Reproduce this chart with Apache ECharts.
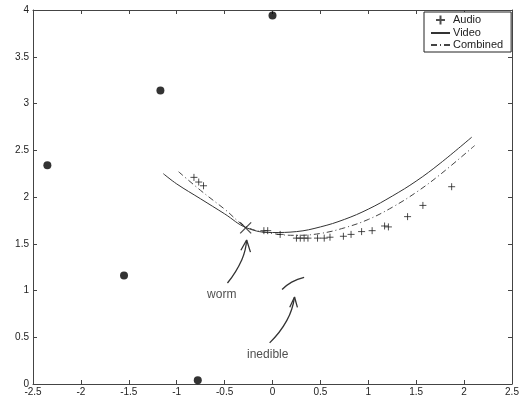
<!DOCTYPE html>
<html><head><meta charset="utf-8">
<script src="https://cdn.jsdelivr.net/npm/echarts@6/dist/echarts.min.js"></script>
<style>html,body{margin:0;padding:0;background:#fff}#c{width:526px;height:406px}</style>
</head><body><div id="c"></div>
<script>
// Data
const dotsData = [[-2.35, 2.34], [-1.55, 1.16], [-1.17, 3.14], [0.0, 3.94], [-0.78, 0.04]];
const audioData = [[-0.82, 2.21], [-0.77, 2.16], [-0.72, 2.12], [-0.09, 1.64], [-0.05, 1.64], [0.08, 1.60],
  [0.25, 1.56], [0.29, 1.56], [0.33, 1.56], [0.37, 1.56], [0.47, 1.56], [0.54, 1.56], [0.60, 1.57],
  [0.74, 1.58], [0.82, 1.60], [0.93, 1.63], [1.04, 1.64], [1.17, 1.69], [1.21, 1.68], [1.41, 1.79],
  [1.57, 1.91], [1.87, 2.11]];
const videoData = [[-1.14, 2.25], [-1.0, 2.14], [-0.75, 1.98], [-0.5, 1.82], [-0.27, 1.67], [0.0, 1.62],
  [0.25, 1.63], [0.5, 1.68], [0.75, 1.76], [1.0, 1.87], [1.25, 2.01], [1.5, 2.17], [1.75, 2.36], [2.08, 2.64]];
const combinedData = [[-0.98, 2.27], [-0.75, 2.07], [-0.5, 1.87], [-0.27, 1.68], [0.0, 1.61], [0.25, 1.59],
  [0.5, 1.61], [0.75, 1.67], [1.0, 1.76], [1.25, 1.89], [1.5, 2.05], [1.75, 2.24], [2.11, 2.55]];
const wormMark = [[-0.28, 1.67]];
const wormArrow = [[-0.47, 1.08], [-0.32, 1.33], [-0.27, 1.54]];
const wormHead = [[-0.33, 1.43], [-0.27, 1.54], [-0.23, 1.41]];
const inedArrow = [[-0.03, 0.44], [0.15, 0.68], [0.23, 0.93]];
const inedHead = [[0.18, 0.82], [0.23, 0.93], [0.26, 0.82]];
const inedArc = [[0.10, 1.01], [0.20, 1.09], [0.33, 1.14]];
const labels = [{name: 'worm', value: [-0.53, 0.96]}, {name: 'inedible', value: [-0.05, 0.31]}];
const xTicks = {min: -2.5, max: 2.5, interval: 0.5};
const yTicks = {min: 0, max: 4, interval: 0.5};
const legendNames = ['Audio', 'Video', 'Combined'];

const axisColor = '#444';
const font = 'Liberation Sans, Arial, sans-serif';
function annLine(data, smooth) {
  return {type: 'line', data: data, smooth: smooth, symbol: 'none', silent: true,
    lineStyle: {color: '#333', width: 1.3}, z: 5};
}
const chart = echarts.init(document.getElementById('c'), null, {renderer: 'canvas'});
chart.setOption({
  animation: false,
  backgroundColor: '#fff',
  grid: {left: 33, right: 14, top: 10, bottom: 22, show: false},
  xAxis: [
    {type: 'value', min: xTicks.min, max: xTicks.max, interval: xTicks.interval,
      axisLine: {show: true, onZero: false, lineStyle: {color: axisColor}},
      axisTick: {inside: true, length: 4, lineStyle: {color: axisColor}},
      axisLabel: {color: '#222', fontSize: 10, fontFamily: font, margin: 3},
      splitLine: {show: false}},
    {type: 'value', position: 'top', min: xTicks.min, max: xTicks.max, interval: xTicks.interval,
      axisLine: {show: true, onZero: false, lineStyle: {color: axisColor}},
      axisTick: {inside: true, length: 4, lineStyle: {color: axisColor}},
      axisLabel: {show: false}, splitLine: {show: false}}
  ],
  yAxis: [
    {type: 'value', min: yTicks.min, max: yTicks.max, interval: yTicks.interval,
      axisLine: {show: true, onZero: false, lineStyle: {color: axisColor}},
      axisTick: {inside: true, length: 4, lineStyle: {color: axisColor}},
      axisLabel: {color: '#222', fontSize: 10, fontFamily: font, margin: 4},
      splitLine: {show: false}},
    {type: 'value', position: 'right', min: yTicks.min, max: yTicks.max, interval: yTicks.interval,
      axisLine: {show: true, onZero: false, lineStyle: {color: axisColor}},
      axisTick: {inside: true, length: 4, lineStyle: {color: axisColor}},
      axisLabel: {show: false}, splitLine: {show: false}}
  ],
  legend: {
    data: [
      {name: legendNames[0]},
      {name: legendNames[1], itemStyle: {opacity: 0}},
      {name: legendNames[2], itemStyle: {opacity: 0}}
    ],
    orient: 'vertical', left: 424, top: 12,
    borderColor: '#222', borderWidth: 1, padding: [1, 8, 1, 6], itemGap: 0,
    itemWidth: 19, itemHeight: 9, backgroundColor: '#fff',
    textStyle: {fontSize: 11, lineHeight: 12, fontFamily: font, color: '#222', padding: [0, 0, 0, -2]}
  },
  series: [
    {name: 'dots', type: 'scatter', data: dotsData, symbol: 'circle', symbolSize: 8,
      itemStyle: {color: '#000'}, silent: true},
    {name: 'Audio', type: 'scatter', data: audioData, symbol: 'path://M5,0L5,10M0,5L10,5', symbolSize: 7,
      itemStyle: {color: 'none', borderColor: '#222', borderWidth: 1}, z: 4},
    {name: 'Video', type: 'line', data: videoData, smooth: 0.4, symbol: 'none',
      lineStyle: {color: '#333', width: 1}, itemStyle: {color: '#333'}},
    {name: 'Combined', type: 'line', data: combinedData, smooth: 0.4, symbol: 'none',
      lineStyle: {color: '#444', width: 1, type: [6, 3, 1, 3]}, itemStyle: {color: '#444'}},
    {name: 'x', type: 'scatter', data: wormMark, symbol: 'path://M0,0L10,10M10,0L0,10', symbolSize: 11,
      itemStyle: {color: 'none', borderColor: '#222', borderWidth: 1.3}, silent: true, z: 6},
    annLine(wormArrow, true), annLine(wormHead, false),
    annLine(inedArrow, true), annLine(inedHead, false),
    annLine(inedArc, true),
    {name: 'txt', type: 'scatter', data: labels, symbolSize: 0, silent: true,
      label: {show: true, formatter: p => p.name, position: 'inside', color: '#222',
        fontSize: 12, fontFamily: font}}
  ]
});
</script>
</body></html>
